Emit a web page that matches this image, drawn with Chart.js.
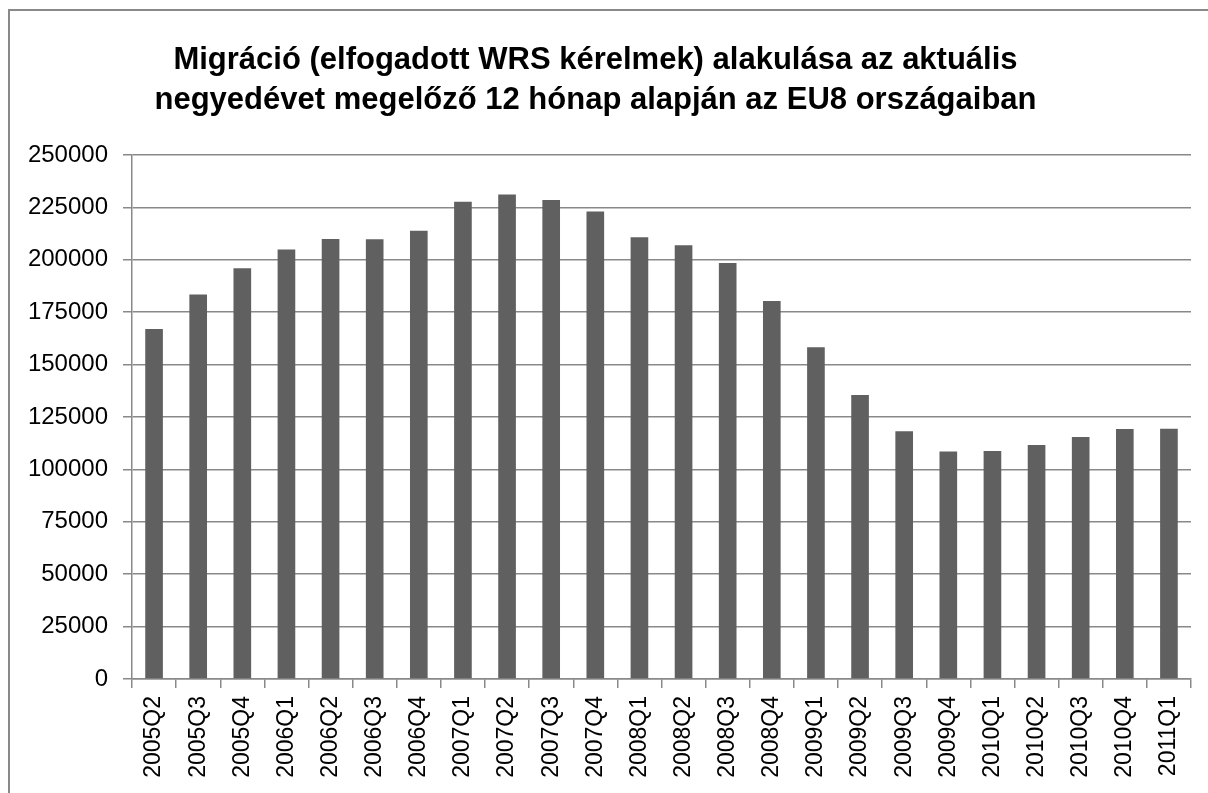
<!DOCTYPE html>
<html>
<head>
<meta charset="utf-8">
<script src="https://cdn.jsdelivr.net/npm/chart.js@4.4.1/dist/chart.umd.min.js"></script>
<style>
  html, body { margin: 0; padding: 0; background: #fff; overflow: hidden; }
  #wrap { position: relative; width: 1208px; height: 793px; }
  #frame { position: absolute; left: 8px; top: 9px; width: 1300px; height: 900px; border-left: 2px solid #898989; border-top: 2px solid #898989; box-sizing: border-box; }
  canvas { position: absolute; left: 0; top: 0; }
</style>
</head>
<body>
<div id="wrap">
  <div id="frame"></div>
  <canvas id="c" width="1208" height="793"></canvas>
</div>
<script>
const titleLines = [
  "Migráció (elfogadott WRS kérelmek) alakulása az aktuális",
  "negyedévet megelőző 12 hónap alapján az EU8 országaiban"
];
const categories = [
  "2005Q2","2005Q3","2005Q4","2006Q1","2006Q2","2006Q3","2006Q4",
  "2007Q1","2007Q2","2007Q3","2007Q4","2008Q1","2008Q2","2008Q3","2008Q4",
  "2009Q1","2009Q2","2009Q3","2009Q4","2010Q1","2010Q2","2010Q3","2010Q4","2011Q1"
];
const values = [
  167000, 183400, 196000, 204900, 209900, 209800, 213900,
  227700, 231200, 228500, 223100, 210700, 207000, 198500, 180400,
  158300, 135500, 118200, 108500, 108800, 111700, 115500, 119300, 119400
];
const yMin = 0;
const yMax = 250000;
const yStep = 25000;

const gridColor = '#898989';
const fam = "'Liberation Sans', Arial, sans-serif";

new Chart(document.getElementById('c'), {
  type: 'bar',
  data: {
    labels: categories,
    datasets: [{
      data: values,
      backgroundColor: '#606060',
      borderWidth: 0,
      barPercentage: 0.4,
      categoryPercentage: 1.0
    }]
  },
  options: {
    responsive: false,
    animation: false,
    devicePixelRatio: 1,
    layout: { padding: { left: 0, right: 17, top: 0, bottom: 0 } },
    plugins: {
      legend: { display: false },
      tooltip: { enabled: false },
      title: {
        display: true,
        text: titleLines,
        color: '#000',
        font: { family: fam, size: 31, weight: 'bold', lineHeight: 40/31 },
        padding: { top: 40, bottom: 35 }
      }
    },
    scales: {
      x: {
        grid: { display: true, drawOnChartArea: false, drawTicks: true, tickLength: 9, color: gridColor, lineWidth: 1.5, offset: true },
        border: { display: true, color: gridColor, width: 1.5 },
        ticks: { color: '#000', font: { family: fam, size: 23 }, maxRotation: 90, minRotation: 90, padding: 8, autoSkip: false },
        afterFit: (s) => { s.height = 114; }
      },
      y: {
        min: yMin, max: yMax,
        grid: { color: gridColor, lineWidth: 1.5, drawTicks: true, tickLength: 9 },
        border: { display: true, color: gridColor, width: 1.5 },
        ticks: { stepSize: yStep, color: '#000', font: { family: fam, size: 24 }, padding: 15,
                 callback: (v) => String(v) },
        afterFit: (s) => { s.width = 132; }
      }
    }
  }
});
</script>
</body>
</html>
